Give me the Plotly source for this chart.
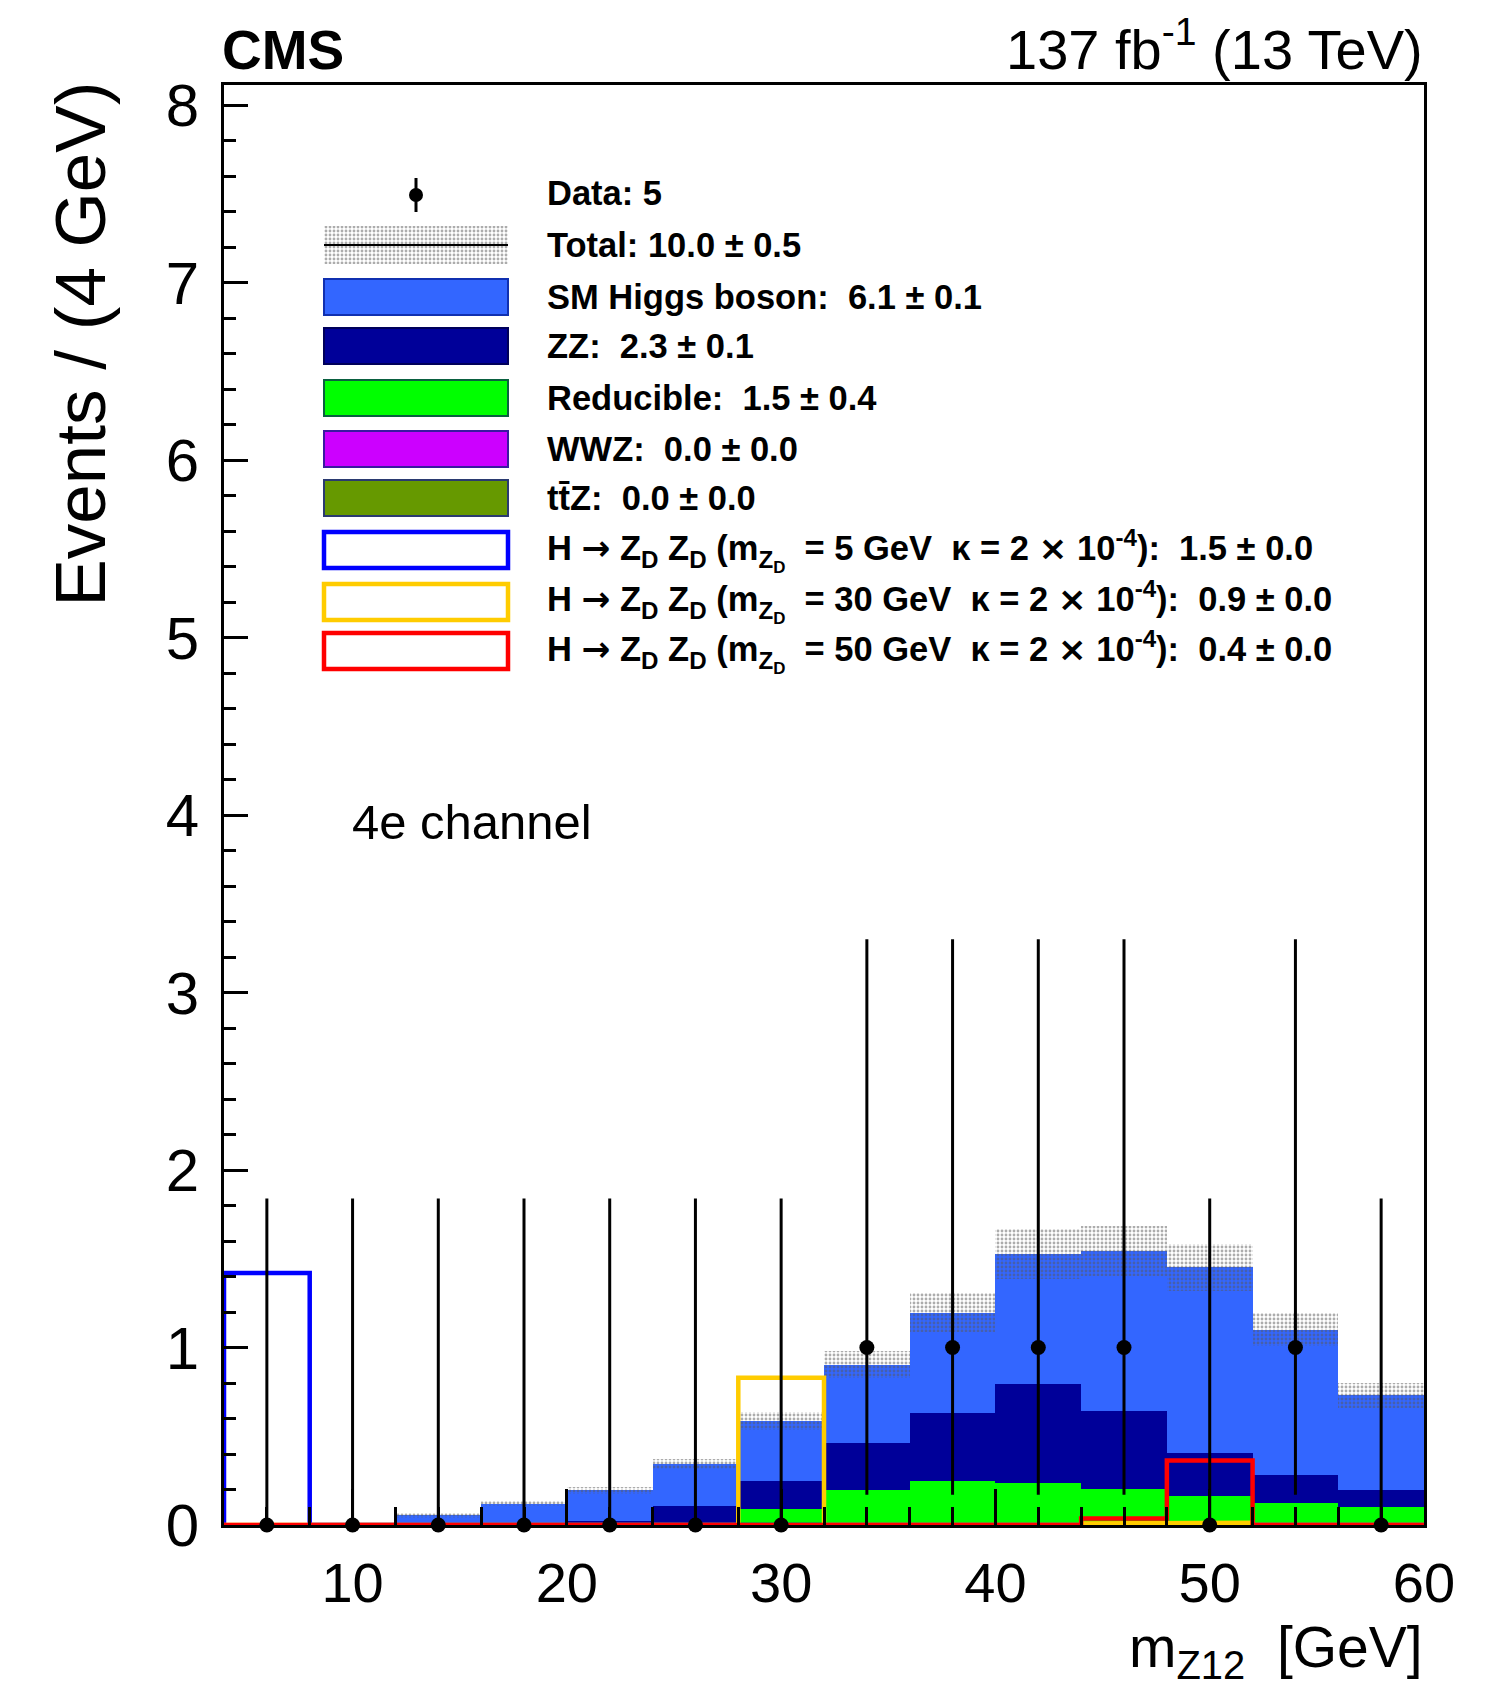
import plotly.graph_objects as go
import numpy as np

# ---------------- data ----------------
bin_edges = [4, 8, 12, 16, 20, 24, 28, 32, 36, 40, 44, 48, 52, 56, 60]
bin_centers = [6, 10, 14, 18, 22, 26, 30, 34, 38, 42, 46, 50, 54, 58]

data_counts = [0, 0, 0, 0, 0, 0, 0, 1, 1, 1, 1, 0, 1, 0]
data_err_up = [1.84, 1.84, 1.84, 1.84, 1.84, 1.84, 1.84, 2.30, 2.30, 2.30, 2.30, 1.84, 2.30, 1.84]
data_err_down = [0, 0, 0, 0, 0, 0, 0, 0.83, 0.83, 0.83, 0.83, 0, 0.83, 0]

ttz = [0, 0, 0, 0, 0, 0, 0, 0, 0, 0, 0, 0, 0, 0]
wwz = [0, 0, 0, 0, 0, 0, 0, 0, 0, 0, 0, 0, 0, 0]
reducible = [0, 0, 0, 0, 0, 0.006, 0.09, 0.20, 0.25, 0.238, 0.204, 0.166, 0.125, 0.103]
zz = [0, 0, 0, 0.006, 0.02, 0.10, 0.16, 0.263, 0.382, 0.557, 0.438, 0.237, 0.156, 0.093]
higgs = [0, 0, 0.055, 0.115, 0.176, 0.239, 0.335, 0.441, 0.563, 0.733, 0.901, 1.049, 0.82, 0.535]
total_unc = [0, 0, 0.013, 0.015, 0.02, 0.028, 0.05, 0.075, 0.11, 0.14, 0.14, 0.133, 0.095, 0.07]

sig_5 = [1.42, 0, 0, 0, 0, 0, 0, 0, 0, 0, 0, 0, 0, 0]
sig_30 = [0, 0, 0, 0, 0, 0, 0.83, 0, 0, 0, 0.008, 0.012, 0, 0]
sig_50 = [0, 0, 0, 0, 0, 0, 0, 0, 0, 0, 0.037, 0.364, 0, 0]

x_ticks = [10, 20, 30, 40, 50, 60]
y_ticks = [0, 1, 2, 3, 4, 5, 6, 7, 8]

ARROW = '<span style="font-family:DejaVu Sans">→</span>'
TIMES = '<span style="font-family:DejaVu Sans">×</span>'
legend_labels = [
    "Data: 5",
    "Total: 10.0 ± 0.5",
    "SM Higgs boson:  6.1 ± 0.1",
    "ZZ:  2.3 ± 0.1",
    "Reducible:  1.5 ± 0.4",
    "WWZ:  0.0 ± 0.0",
    "tt\u0304Z:  0.0 ± 0.0",
    "H " + ARROW + " Z<sub>D</sub> Z<sub>D</sub> (m<sub>Z<sub>D</sub></sub>  = 5 GeV  κ = 2 " + TIMES + " 10<sup>-4</sup>):  1.5 ± 0.0",
    "H " + ARROW + " Z<sub>D</sub> Z<sub>D</sub> (m<sub>Z<sub>D</sub></sub>  = 30 GeV  κ = 2 " + TIMES + " 10<sup>-4</sup>):  0.9 ± 0.0",
    "H " + ARROW + " Z<sub>D</sub> Z<sub>D</sub> (m<sub>Z<sub>D</sub></sub>  = 50 GeV  κ = 2 " + TIMES + " 10<sup>-4</sup>):  0.4 ± 0.0",
]

# ---------------- style ----------------
FONT = "Liberation Sans, Arial, Helvetica, sans-serif"
C_HIGGS = "#3366ff"
C_ZZ = "#000099"
C_RED = "#00ff00"
C_WWZ = "#cc00ff"
C_TTZ = "#669900"
C_S5 = "#0000ff"
C_S30 = "#ffcc00"
C_S50 = "#ff0000"
BAND_FG = "#5a5a5a"

W, H = 1497, 1691
FX0, FX1, FY0, FY1 = 224, 1424, 85, 1525   # frame in page pixels
L, R, T, B = FX0, W - FX1, FY0, H - FY1
XR = [4, 60]
YR = [0, (FY1 - FY0) / 177.5]


def px2paper_x(p):
    return (p - FX0) / (FX1 - FX0)


def px2paper_y(p):
    return (FY1 - p) / (FY1 - FY0)


def px2data_x(p):
    return XR[0] + px2paper_x(p) * (XR[1] - XR[0])


def px2data_y(p):
    return YR[0] + px2paper_y(p) * (YR[1] - YR[0])


fig = go.Figure()

# stacked backgrounds
widths = [bin_edges[i + 1] - bin_edges[i] for i in range(len(bin_centers))]
base = np.zeros(len(bin_centers))
for name, vals, col in [("ttZ", ttz, C_TTZ), ("WWZ", wwz, C_WWZ),
                        ("Reducible", reducible, C_RED), ("ZZ", zz, C_ZZ),
                        ("SM Higgs", higgs, C_HIGGS)]:
    v = np.array(vals, dtype=float)
    fig.add_trace(go.Bar(x=bin_centers, y=v, base=base.copy(), width=widths,
                         marker=dict(color=col, line=dict(width=0)),
                         showlegend=False, name=name))
    base = base + v
total = base

band_pattern = dict(shape=".", size=4, solidity=0.4, fgcolor=BAND_FG)

# total uncertainty band (dotted)
unc = np.array(total_unc)
fig.add_trace(go.Bar(x=bin_centers, y=2 * unc, base=total - unc, width=widths,
                     marker=dict(color="rgba(0,0,0,0)", line=dict(width=0),
                                 pattern=band_pattern),
                     showlegend=False, name="Total unc."))

# legend swatch for total (dotted band)
sw_x0, sw_x1 = 324, 508
fig.add_trace(go.Bar(x=[px2data_x((sw_x0 + sw_x1) / 2)],
                     y=[px2data_y(226) - px2data_y(264)],
                     base=[px2data_y(264)],
                     width=[px2data_x(sw_x1) - px2data_x(sw_x0)],
                     marker=dict(color="rgba(0,0,0,0)", line=dict(width=0),
                                 pattern=band_pattern),
                     showlegend=False, hoverinfo="skip"))


# signal outlines
def step(vals):
    xs, ys = [bin_edges[0]], [0.0]
    for i, v in enumerate(vals):
        xs += [bin_edges[i], bin_edges[i + 1]]
        ys += [v, v]
    xs.append(bin_edges[-1])
    ys.append(0.0)
    return xs, ys


for vals, col in [(sig_5, C_S5), (sig_30, C_S30), (sig_50, C_S50)]:
    xs, ys = step(vals)
    fig.add_trace(go.Scatter(x=xs, y=ys, mode="lines",
                             line=dict(color=col, width=4.5),
                             showlegend=False, hoverinfo="skip"))

# data
fig.add_trace(go.Scatter(x=bin_centers, y=data_counts, mode="markers",
                         marker=dict(color="black", size=15), cliponaxis=False,
                         error_y=dict(type="data", symmetric=False,
                                      array=data_err_up, arrayminus=data_err_down,
                                      color="black", thickness=3, width=0),
                         showlegend=False, name="Data"))

# legend data symbol
fig.add_trace(go.Scatter(x=[px2data_x(416)], y=[px2data_y(195)], mode="markers",
                         marker=dict(color="black", size=14),
                         error_y=dict(type="data", symmetric=True,
                                      array=[px2data_y(178) - px2data_y(195)],
                                      color="black", thickness=3, width=0),
                         showlegend=False, hoverinfo="skip"))

# ---------------- legend (custom) ----------------
row_y = [193, 245, 297, 346, 398, 449, 498, 550, 602, 651]
shapes = []
annotations = []
box_h = 36
fills = [None, None, C_HIGGS, C_ZZ, C_RED, C_WWZ, C_TTZ, "white", "white", "white"]
borders = [None, None, "#1030b0", "#00005a", "#0a6040", "#3a1aa0", "#2a3a70", C_S5, C_S30, C_S50]
bwid = [0, 0, 2, 2, 2, 2, 2, 4.5, 4.5, 4.5]
for i, yc in enumerate(row_y):
    if fills[i] is not None:
        shapes.append(dict(type="rect", xref="paper", yref="paper",
                           x0=px2paper_x(sw_x0), x1=px2paper_x(sw_x1),
                           y0=px2paper_y(yc + box_h / 2), y1=px2paper_y(yc - box_h / 2),
                           fillcolor=fills[i], line=dict(color=borders[i], width=bwid[i]),
                           layer="above"))
    annotations.append(dict(xref="paper", yref="paper", x=px2paper_x(545), y=px2paper_y(yc),
                            xanchor="left", yanchor="middle", showarrow=False,
                            text="<b>" + legend_labels[i] + "</b>",
                            font=dict(family=FONT, size=34.5, color="black")))
# black line through the total swatch
shapes.append(dict(type="line", xref="paper", yref="paper",
                   x0=px2paper_x(sw_x0), x1=px2paper_x(sw_x1),
                   y0=px2paper_y(245), y1=px2paper_y(245),
                   line=dict(color="black", width=2), layer="above"))

# titles / labels
annotations += [
    dict(xref="paper", yref="paper", x=px2paper_x(220), y=px2paper_y(50),
         xanchor="left", yanchor="middle", showarrow=False,
         text="<b>CMS</b>", font=dict(family=FONT, size=55, color="black")),
    dict(xref="paper", yref="paper", x=px2paper_x(1425), y=px2paper_y(46),
         xanchor="right", yanchor="middle", showarrow=False,
         text="137 fb<sup>-1</sup> (13 TeV)", font=dict(family=FONT, size=56, color="black")),
    dict(xref="paper", yref="paper", x=px2paper_x(350), y=px2paper_y(822),
         xanchor="left", yanchor="middle", showarrow=False,
         text="4e channel", font=dict(family=FONT, size=49, color="black")),
    dict(xref="paper", yref="paper", x=px2paper_x(1425), y=px2paper_y(1613),
         xanchor="right", yanchor="top", showarrow=False,
         text="m<sub>Z12</sub>  [GeV]", font=dict(family=FONT, size=57, color="black")),
    dict(xref="paper", yref="paper", x=px2paper_x(80), y=px2paper_y(80),
         xanchor="center", yanchor="top", showarrow=False, textangle=-90,
         text="Events / (4 GeV)", font=dict(family=FONT, size=71, color="black")),
]

fig.update_layout(
    width=W, height=H,
    margin=dict(l=L, r=R, t=T, b=B, pad=0),
    paper_bgcolor="white", plot_bgcolor="white",
    barmode="overlay", bargap=0,
    showlegend=False,
    shapes=shapes, annotations=annotations,
    font=dict(family=FONT, color="black"),
)
fig.update_xaxes(range=XR, showgrid=False, zeroline=False,
                 showline=True, mirror=True, linecolor="black", linewidth=3,
                 ticks="inside", ticklen=36, tickwidth=3, tickcolor="black",
                 tickvals=x_ticks, ticktext=[str(v) for v in x_ticks],
                 tickfont=dict(family=FONT, size=56, color="black"),
                 ticklabelstandoff=7,
                 minor=dict(ticks="inside", ticklen=18, tickwidth=3, tickcolor="black", dtick=2, tick0=0))
fig.update_yaxes(range=YR, showgrid=False, zeroline=False,
                 showline=True, mirror=True, linecolor="black", linewidth=3,
                 ticks="inside", ticklen=24, tickwidth=3, tickcolor="black",
                 tickvals=y_ticks, ticktext=[str(v) for v in y_ticks],
                 tickfont=dict(family=FONT, size=60, color="black"),
                 ticklabelstandoff=10,
                 minor=dict(ticks="inside", ticklen=12, tickwidth=3, tickcolor="black", dtick=0.2, tick0=0))

fig.write_html("out.html", config={"displayModeBar": False},
               post_script="document.body.style.margin='0';")
